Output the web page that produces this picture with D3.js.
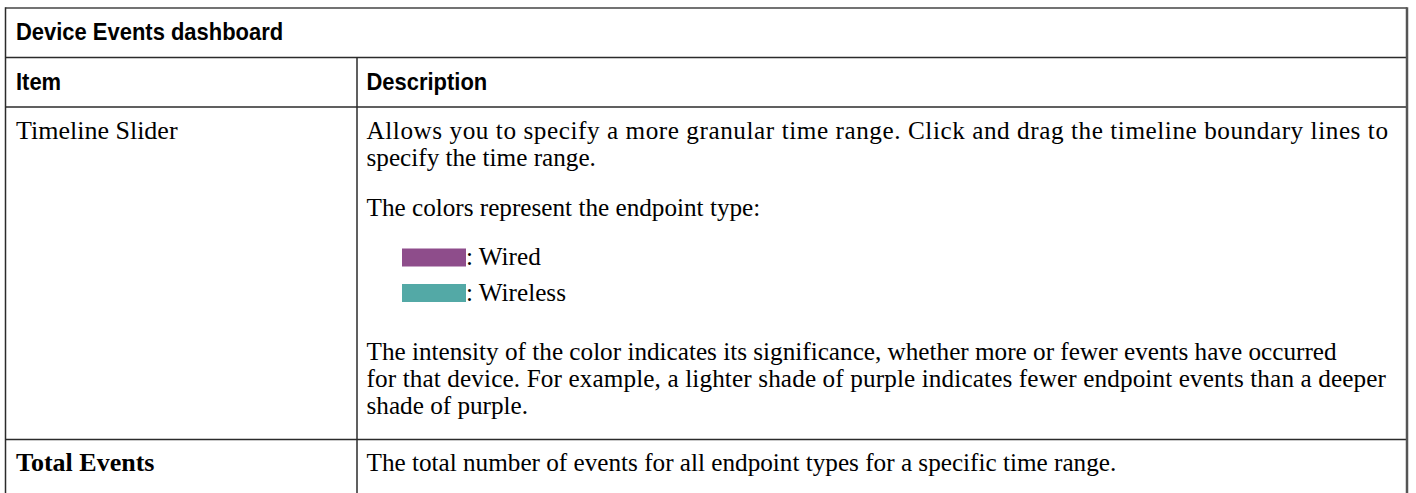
<!DOCTYPE html>
<html>
<head>
<meta charset="utf-8">
<script src="https://cdn.jsdelivr.net/npm/d3@7"></script>
<style>
  html, body { margin: 0; padding: 0; background: #fff; }
  svg { display: block; }
</style>
</head>
<body>
<svg id="chart" width="1416" height="493"></svg>
<script>
// ---- content ----
const tableTitle = "Device Events dashboard";
const columnHeaders = ["Item", "Description"];
const rowItems = ["Timeline Slider", "Total Events"];
const rowItemBold = [false, true];
const sliderPara1 = [
  "Allows you to specify a more granular time range. Click and drag the timeline boundary lines to",
  "specify the time range."
];
const sliderPara2 = ["The colors represent the endpoint type:"];
const legendLabels = ["Wired", "Wireless"];
const legendColors = ["#8e4d8b", "#53a9a6"];
const sliderPara3 = [
  "The intensity of the color indicates its significance, whether more or fewer events have occurred",
  "for that device. For example, a lighter shade of purple indicates fewer endpoint events than a deeper",
  "shade of purple."
];
const totalDesc = ["The total number of events for all endpoint types for a specific time range."];

// ---- layout ----
const W = 1416, H = 493;
const xL = 5.5, xR = 1407, xDiv = 357;
const yTop = 8, yTitle = 57.5, yHead = 107, yRow2 = 439.5;
const padX = 10;
const headFont = "'Liberation Sans', Arial, sans-serif";
const headSize = 23, headSqueeze = 0.955;
const bodyFont = "'Liberation Serif', 'Times New Roman', serif";
const bodySize = 25.2;
const itemSize = 26;
const lineH = 27;
// right edges of the wrapped lines in the reference (null = natural width)
const para1Right = [1388, null];
const para3Right = [null, 1386, null];

const svg = d3.select("#chart");

// grid lines
const hLines = [yTitle, yHead, yRow2];
svg.selectAll("line.h").data(hLines).join("line")
  .attr("class", "h")
  .attr("x1", xL).attr("x2", xR)
  .attr("y1", d => d).attr("y2", d => d)
  .attr("stroke", "#2b2b2b").attr("stroke-width", 1.5);

svg.append("line").attr("x1", xL).attr("x2", xR).attr("y1", yTop).attr("y2", yTop)
  .attr("stroke", "#444").attr("stroke-width", 1.5);
svg.append("line").attr("x1", xL).attr("x2", xL).attr("y1", yTop - 0.75).attr("y2", H)
  .attr("stroke", "#2b2b2b").attr("stroke-width", 1.5);
svg.append("line").attr("x1", xDiv).attr("x2", xDiv).attr("y1", yTitle).attr("y2", H)
  .attr("stroke", "#2b2b2b").attr("stroke-width", 1.5);
svg.append("line").attr("x1", xR).attr("x2", xR).attr("y1", yTop - 0.75).attr("y2", H)
  .attr("stroke", "#555").attr("stroke-width", 2.5);

const headX = [xL + padX + 0.5, xDiv + 9.5];

// title
svg.append("text")
  .attr("transform", `translate(${headX[0]},39.5) scale(${headSqueeze},1)`)
  .attr("font-family", headFont).attr("font-weight", "bold").attr("font-size", headSize)
  .attr("fill", "#000").text(tableTitle);

// column headers
svg.selectAll("text.colhead").data(columnHeaders).join("text")
  .attr("class", "colhead")
  .attr("transform", (d, i) => `translate(${headX[i]},89.5) scale(${headSqueeze},1)`)
  .attr("font-family", headFont).attr("font-weight", "bold").attr("font-size", headSize)
  .attr("fill", "#000").text(d => d);

// row items
const rowBase = [138.5, 470.5];
svg.selectAll("text.item").data(rowItems).join("text")
  .attr("class", "item")
  .attr("x", headX[0]).attr("y", (d, i) => rowBase[i])
  .attr("font-family", bodyFont).attr("font-size", itemSize)
  .attr("font-weight", (d, i) => rowItemBold[i] ? "bold" : "normal")
  .attr("fill", "#000").text(d => d);

// description blocks
function para(lines, y0, rights) {
  svg.append("g").selectAll("text").data(lines).join("text")
    .attr("x", headX[1]).attr("y", (d, i) => y0 + i * lineH)
    .attr("font-family", bodyFont).attr("font-size", bodySize)
    .attr("fill", "#000").text(d => d)
    .each(function (d, i) {
      const r = rights && rights[i];
      if (r) {
        d3.select(this).attr("textLength", r - headX[1]).attr("lengthAdjust", "spacing");
      }
    });
}
para(sliderPara1, 138.5, para1Right);
para(sliderPara2, 215.5);

// legend
const legendBase = [265, 300.5];
const sw = 64, sh = 18, swX = 402;
const lg = svg.append("g").selectAll("g").data(legendLabels).join("g");
lg.append("rect")
  .attr("x", swX).attr("y", (d, i) => legendBase[i] - 16.5)
  .attr("width", sw).attr("height", sh)
  .attr("fill", (d, i) => legendColors[i]);
lg.append("text")
  .attr("x", swX + sw).attr("y", (d, i) => legendBase[i])
  .attr("font-family", bodyFont).attr("font-size", bodySize)
  .attr("fill", "#000").text(d => ": " + d);

para(sliderPara3, 359.5, para3Right);
para(totalDesc, 470.5);
</script>
</body>
</html>
